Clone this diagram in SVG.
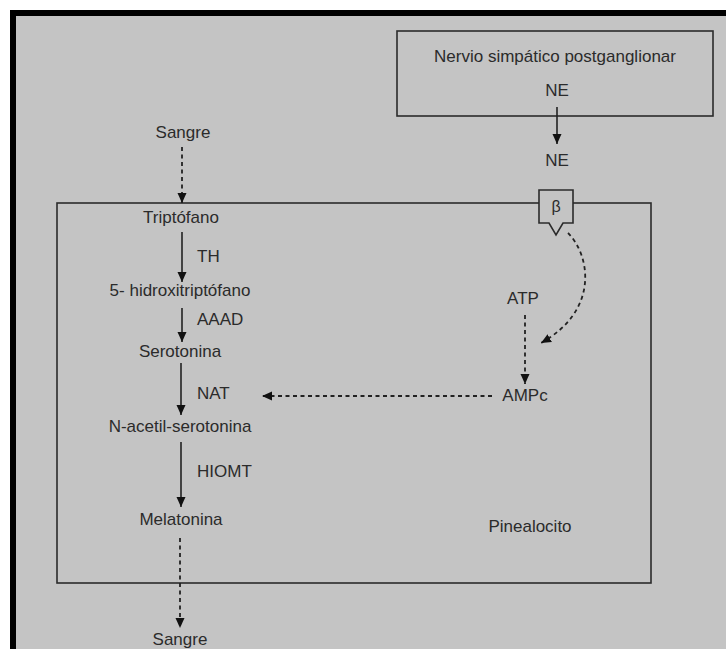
<svg xmlns="http://www.w3.org/2000/svg" width="726" height="649" viewBox="0 0 726 649">
<style>
text{font-family:"Liberation Sans",Arial,sans-serif;font-size:17px;fill:#2b2b2b}
.c{text-anchor:middle}
.box{fill:none;stroke:#2b2b2b;stroke-width:1.6}
.ln{fill:none;stroke:#222;stroke-width:1.6}
.dash{fill:none;stroke:#222;stroke-width:1.8;stroke-dasharray:4 3.5}
</style>
<defs>
<marker id="ah" viewBox="0 0 10 10" refX="10" refY="5" markerWidth="10" markerHeight="10" markerUnits="userSpaceOnUse" orient="auto">
<path d="M0,0.5 L10,5 L0,9.5 Z" fill="#111"/>
</marker>
</defs>
<rect width="726" height="649" fill="#ffffff"/>
<rect x="10" y="10" width="716" height="639" fill="#000"/>
<rect x="16" y="16" width="710" height="633" fill="#c4c4c4"/>

<g id="nervio">
<rect class="box" x="397" y="31" width="316" height="85"/>
<text class="c" x="555" y="62">Nervio simpático postganglionar</text>
<text class="c" x="557" y="96">NE</text>
</g>
<g id="ne"><text class="c" x="557" y="166">NE</text></g>
<g id="pinealocito">
<rect class="box" x="57" y="203" width="594" height="380"/>
<text class="c" x="530" y="532">Pinealocito</text>
</g>
<g id="beta">
<path d="M539,190 H573 V223 H563 L556,235 L549,223 H539 Z" fill="#c4c4c4" stroke="#2b2b2b" stroke-width="1.6"/>
<text class="c" x="556" y="212" style="font-size:16px">β</text>
</g>
<g id="sangre1"><text class="c" x="183" y="138">Sangre</text></g>
<g id="triptofano"><text class="c" x="181" y="223">Triptófano</text></g>
<g id="hidroxi"><text class="c" x="180" y="296">5- hidroxitriptófano</text></g>
<g id="serotonina"><text class="c" x="180" y="357">Serotonina</text></g>
<g id="nacetil"><text class="c" x="180" y="432">N-acetil-serotonina</text></g>
<g id="melatonina"><text class="c" x="181" y="525">Melatonina</text></g>
<g id="sangre2"><text class="c" x="180" y="645">Sangre</text></g>
<g id="atp"><text class="c" x="523" y="304">ATP</text></g>
<g id="ampc"><text class="c" x="525" y="401">AMPc</text></g>

<g id="connectors">
<line class="ln" x1="557" y1="107" x2="557" y2="144" marker-end="url(#ah)"/>
<line class="dash" x1="182" y1="147" x2="182" y2="203" marker-end="url(#ah)"/>
<line class="ln" x1="182" y1="232" x2="182" y2="282" marker-end="url(#ah)"/>
<text x="197" y="262">TH</text>
<line class="ln" x1="182" y1="308" x2="182" y2="342" marker-end="url(#ah)"/>
<text x="197" y="325">AAAD</text>
<line class="ln" x1="181" y1="363" x2="181" y2="415" marker-end="url(#ah)"/>
<text x="197" y="399">NAT</text>
<line class="ln" x1="181" y1="442" x2="181" y2="507" marker-end="url(#ah)"/>
<text x="197" y="477">HIOMT</text>
<line class="dash" x1="180" y1="538" x2="180" y2="628" marker-end="url(#ah)"/>
<line class="dash" x1="525" y1="315" x2="525" y2="384" marker-end="url(#ah)"/>
<line class="dash" x1="492" y1="396" x2="262" y2="396" marker-end="url(#ah)"/>
<path class="dash" d="M568,233 C590,255 600,310 541,343" marker-end="url(#ah)"/>
</g>
</svg>
